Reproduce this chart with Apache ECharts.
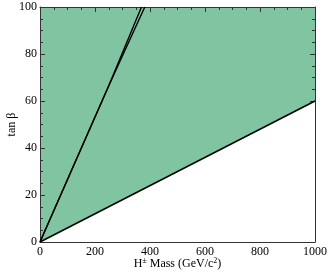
<!DOCTYPE html>
<html><head><meta charset="utf-8">
<script src="https://cdn.jsdelivr.net/npm/echarts@6/dist/echarts.min.js"></script>
<style>html,body{margin:0;padding:0;background:#fff}#c{width:332px;height:273px}</style>
</head><body><div id="c"></div>
<script>
// Data
const lowerLine = [[0, 0], [1000, 60]];
const upperLineA = [[0, 0], [250, 66.5], [369, 100]];
const upperLineB = [[0, 0], [250, 66.5], [381, 100]];
const xTicks = [0, 200, 400, 600, 800, 1000];
const yTicks = [0, 20, 40, 60, 80, 100];

const font = 'Liberation Serif';
const green = '#80c4a2';
const chart = echarts.init(document.getElementById('c'), null, {renderer: 'canvas'});
const axisCommon = {
  axisLine: {show: true, onZero: false, lineStyle: {color: '#333', width: 1}},
  axisTick: {show: true, inside: true, length: 5, lineStyle: {color: '#333'}},
  minorTick: {show: true, splitNumber: 4, length: 3, lineStyle: {color: '#333'}},
  splitLine: {show: false}
};
chart.setOption({
  animation: false,
  grid: {left: 40, right: 17, top: 7, bottom: 31, show: true, backgroundColor: green, borderWidth: 0,
         containLabel: false, outerBoundsMode: 'none'},
  xAxis: [
    Object.assign({type: 'value', min: 0, max: 1000, interval: 200, position: 'bottom',
      name: '{n|H}{s|±}{n| Mass (GeV/c}{s|2}{n|)}', nameLocation: 'middle', nameGap: 15, nameMoveOverlap: false,
      nameTextStyle: {rich: {n: {fontFamily: font, fontSize: 12, color: '#000'}, s: {fontFamily: font, fontSize: 8, color: '#000', verticalAlign: 'top', padding: [0,0,6,0]}}},
      axisLabel: {fontFamily: font, fontSize: 12, color: '#000', margin: 4, formatter: v => String(v)}}, axisCommon),
    Object.assign({type: 'value', min: 0, max: 1000, interval: 200, position: 'top', axisLabel: {show: false}}, axisCommon)
  ],
  yAxis: [
    Object.assign({type: 'value', min: 0, max: 100, interval: 20, position: 'left',
      name: 'tan β', nameLocation: 'middle', nameGap: 22, nameMoveOverlap: false,
      nameTextStyle: {fontFamily: font, fontSize: 12, color: '#000'},
      axisLabel: {fontFamily: font, fontSize: 12, color: '#000', margin: 3, formatter: v => String(v)}}, axisCommon),
    Object.assign({type: 'value', min: 0, max: 100, interval: 20, position: 'right', axisLabel: {show: false}}, axisCommon)
  ],
  series: [
    {type: 'line', data: lowerLine, symbol: 'none', lineStyle: {color: '#000', width: 1.5},
     areaStyle: {color: '#fff', opacity: 1, origin: 'start'}, z: 2},
    {type: 'line', data: upperLineA, symbol: 'none', lineStyle: {color: '#000', width: 1.4}, z: 3},
    {type: 'line', data: upperLineB, symbol: 'none', lineStyle: {color: '#000', width: 1.4}, z: 3}
  ]
});
</script></body></html>
